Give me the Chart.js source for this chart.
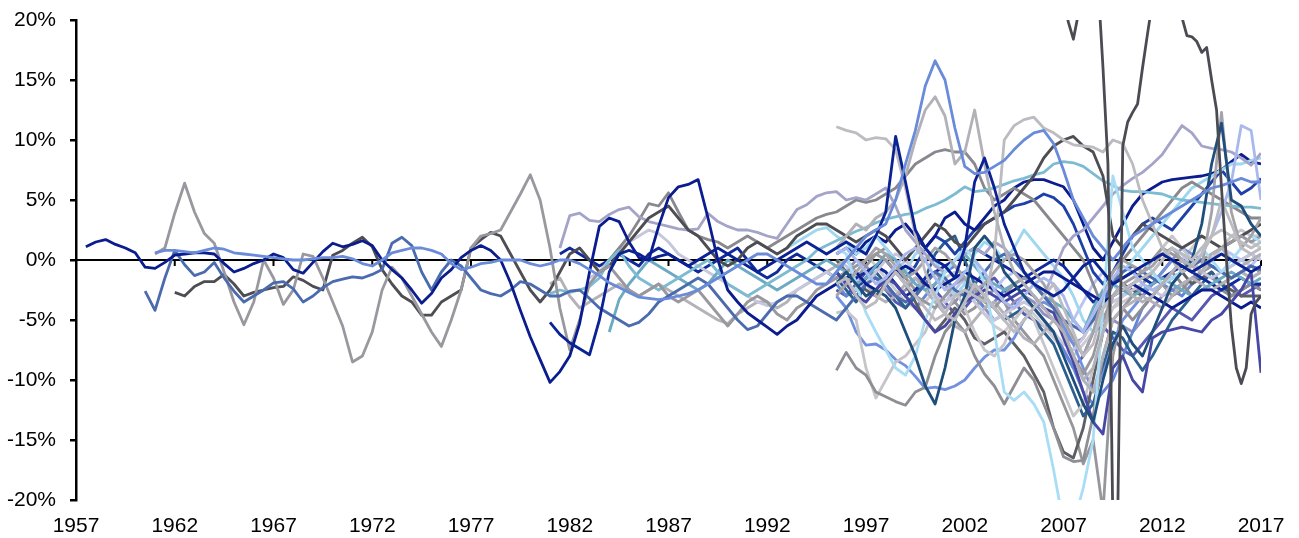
<!DOCTYPE html>
<html>
<head>
<meta charset="utf-8">
<script src="https://cdn.jsdelivr.net/npm/chart.js@4"></script>
<style>
  html, body { margin: 0; background: #fff; }
</style>
</head>
<body>
<canvas id="myChart" width="1299" height="538"></canvas>
<script>
// Axis ticks
const xTicks = [1957, 1962, 1967, 1972, 1977, 1982, 1987, 1992, 1997, 2002, 2007, 2012, 2017];
const yMin = -20;
const yMax = 20;
const yStep = 5;

// Series values (% deviation), half-year steps unless noted
const navyLong = [ // from 1957.5
    1.1, 1.5, 1.7, 1.3, 1.0, 0.6, -0.6, -0.7, -0.2, 0.4,
    0.5, 0.6, 0.6, 0.5, -0.3, -1.0, -0.7, -0.3, 0.0, 0.5,
    0.2, -0.8, -1.1, -0.2, 0.7, 1.4, 1.1, 1.3, 1.6, 1.2,
    0.0, -0.8,
    -1.5, -2.5, -3.6, -2.8, -1.5, -0.8, 0.2, 0.8, 1.2, 0.8,
    0.0, -1.9, -4.2, -6.4, -8.3, -10.2, -9.3, -8.0, -5.3, -1.0,
    2.8, 3.5, 3.2, 1.5, 0.2, 0.0, 2.8, 5.2, 6.1, 6.3,
    6.7, 3.5, 0.0, -2.5, -3.5, -4.4, -5.0, -5.6, -6.2, -5.5,
    -5.0, -4.0, -3.0, -2.5,
    -2.0, -1.5, -1.0, -2.0, -2.5, -1.5, -1.0, -0.5, -1.0, -2.0,
    -2.5, -2.0, -1.5, -1.0, -1.5, -2.0, -2.5, -3.0, -2.5, -2.0,
    -1.5, -1.0, -1.0, -1.5, -2.0, -2.5, -3.0, -3.5, -3.0, -2.5,
    -2.0, -2.5, -3.0, -3.5, -4.0, -3.5, -3.0, -2.5, -2.5, -3.0,
    -3.5, -4.0, -3.5, -4.0
];
const steelLong = [ // from 1960.5
    -2.6, -4.2, -1.5, 0.8, -0.4, -1.3, -1.0, -0.2, -1.5, -2.6,
    -3.5, -3.0, -2.5, -1.9, -1.8, -2.4, -3.5, -3.0, -2.3, -1.8,
    -1.6, -1.4, -1.5, -1.2, -0.8, 1.4, 1.9,
    1.2, -1.0, -2.5, -1.0, 0.0, -0.5, -1.5, -2.5, -2.8, -3.0,
    -2.5, -1.8, -2.0, -2.5, -3.0, -3.0, -2.6, -2.5, -3.2, -4.0,
    -4.5, -5.0, -5.5, -5.2, -4.5, -3.5, -3.0, -2.5, -2.0, -1.5,
    -2.0, -3.0, -4.0, -5.0, -5.8, -5.5, -4.5, -3.5, -3.0, -3.0,
    -3.5, -4.0, -4.5,
    -5.0, -4.0, -3.0, -2.0, -1.5, -2.0, -3.0, -3.5, -3.0, -2.0,
    -1.0, -1.5, -2.5, -3.0, -2.0, -1.0, 0.0, 0.5, 0.0, -1.0,
    -2.0, -3.0, -4.0, -5.0, -5.5, -6.0, -5.0, -3.5, -2.0, -1.0,
    -0.5, -1.0, -1.5, -2.0, -1.5, -1.0, -0.5, 0.0, -0.5, -1.0,
    -1.5, -1.0, -0.5, -0.8
];
const greyLong = [ // from 1961
    0.5, 1.0, 3.9, 6.4, 4.0, 2.2, 1.4, -1.0, -3.5, -5.4,
    -3.5, 0.0, -1.5, -3.7, -2.5, 0.5, 0.3, -1.5, -3.5, -5.5,
    -8.5, -8.0, -6.0, -2.5, -0.6,
    -1.5, -3.0, -4.5, -6.0, -7.2, -5.0, -2.5, 1.0, 2.0, 2.2,
    2.5, 4.0, 5.5, 7.1, 5.0, 1.0, -4.0, -7.5, -5.0, -2.0,
    -1.0, -0.5, -1.5, -2.5, -3.0, -2.5, -2.0, -3.0, -3.5, -3.0,
    -2.5, -3.5, -4.5, -5.5, -4.5, -3.5, -3.0, -3.5, -4.5, -5.0,
    -4.0, -3.5, -2.5, -2.0,
    -1.5, -1.0, -0.5, 0.0, 0.5, 0.0, -1.0, -2.0, -3.0, -3.5,
    -4.0, -3.0, -2.0, -1.5, -2.5, -3.5, -4.0, -3.0, -2.0, -1.5,
    -2.0, -3.0, -4.0, -6.0, -8.0, -9.5, -8.0, -5.0, -3.0, -2.0,
    -1.5, -1.0, 0.0, 1.0, 0.5, 0.0, -0.5, 0.0, 0.5, 1.0,
    1.5, 2.0, 1.5, 2.0
];
const darkGreyLong = [ // from 1962
    -2.7, -3.0, -2.2, -1.8, -1.8, -1.2, -2.0, -3.0, -2.7, -2.5,
    -2.3, -2.2, -1.4, -1.7, -2.2, -2.5, 0.4, 0.8, 1.4, 1.9,
    1.1, -0.8,
    -2.0, -3.0, -3.5, -4.6, -4.6, -3.5, -3.0, -2.5, 1.0, 1.7,
    2.3, 2.0, 0.5, -1.0, -2.5, -3.5, -2.5, -1.0, 0.5, 1.0,
    0.0, -1.0, -0.5, 0.5, 1.5, 2.5, 3.5, 4.0, 4.5, 3.5,
    2.5, 2.0, 1.0, 0.0, -0.5, 0.0, 1.0, 1.5, 1.0, 0.5,
    1.0, 2.0, 2.5, 3.0, 3.0,
    2.5, 2.0, 1.5, 2.0, 2.5, 2.0, 1.0, 0.0, 1.0, 2.0,
    3.0, 2.5, 1.5, 1.0, 2.0, 3.0, 3.5, 4.0, 5.0, 6.0,
    7.0, 8.5, 9.5, 10.0, 10.3, 9.5, 9.0, 7.0, 2.0, 1.0,
    2.0, 3.0, 2.5, 2.0, 1.5, 1.0, 1.5, 2.0, 1.5, 1.0,
    1.5, 2.0, 2.5, 3.0
];
const cornflowerLong = [ // from 1961
    0.6, 0.8, 0.8, 0.7, 0.6, 0.8, 1.0, 0.9, 0.6, 0.5,
    0.4, 0.3, 0.2, 0.1, 0.0, 0.0, 0.1, 0.2, 0.2, 0.3,
    0.1, -0.3, -0.5, 0.0, 0.6, 0.8, 1.0, 1.0, 0.8, 0.5,
    -0.3, -0.8, -0.6, -0.3, -0.2, 0.0, 0.0, 0.0,
    -0.3, -0.5, -0.3, 0.0, 0.0, -0.3, -0.8, -1.3, -1.9, -2.3,
    -2.7, -3.1, -3.2, -3.3, -3.2, -3.0, -2.8, -2.5, -2.0, -1.5,
    -1.0, -0.5, 0.0, 0.5, 0.5, 0.0, -0.5, -1.0, -1.5, -2.0,
    -2.0,
    -1.0, 0.0, 1.0, 2.0, 2.5, 3.0, 5.0, 8.0, 10.8, 14.5,
    16.6, 15.0, 11.0, 7.8, 7.2, 7.3, 7.8, 8.3, 9.2, 10.0,
    10.6, 10.8, 9.7, 7.5, 5.0, 3.5, 2.0, 1.0, 0.0, 1.0,
    2.0, 2.5, 3.0, 3.5, 4.0, 4.5, 5.0, 5.5, 6.0, 6.2,
    6.5, 6.8, 6.5, 6.5
];
const lavender = [ // from 1981.5
    1.0, 3.7, 3.9, 3.3, 3.2, 3.8, 4.2, 4.4, 3.6, 3.2,
    3.0, 2.8, 2.6, 2.5, 2.6, 3.9, 3.2, 2.8, 2.5, 2.5,
    2.3, 2.0, 1.8, 3.0, 4.2, 4.6, 5.3, 5.6,
    5.7, 5.0, 5.2, 5.0, 5.5, 6.0, 4.5, 2.5, 1.5, 0.5,
    -0.5, -1.0, 0.0, 0.5, 1.0, 0.5, 1.5, 1.0, 0.0, -1.0,
    -2.0, -3.0, -1.0, 1.0, 2.0, 2.5, 3.5, 4.5, 5.5, 6.2,
    6.8, 7.3, 8.0, 8.8, 10.0, 11.2, 10.6, 9.5, 9.3, 9.2,
    9.0, 8.5, 7.9, 8.9
];
const navySpikes = [ // from 1981
    -5.2, -6.2, -6.9, -7.4, -7.9, -5.0, -1.0, 0.5, 0.8, 0.5,
    0.0, 0.3, 0.5, 0.0, -0.5, 0.0, 0.5, 1.0, 0.5, 0.0,
    -0.5, -1.0, -0.5, 0.0, 0.5, 1.0, 1.5, 1.0, 0.5,
    1.0, 1.5, 1.0, 0.5, 2.0, 4.0, 10.3, 6.5, 2.5, 1.0,
    0.0, -0.5, -1.5, 1.0, 6.5, 8.5, 6.0, 3.0, 1.0, -1.0,
    -2.0, -2.5, -3.0, -2.5, -1.5, -0.5, 0.0, -1.0, -2.0, -1.5,
    -1.0, -0.5, 0.0, 0.5, 0.0, -0.5, -1.0, -0.5, 0.0, 0.5,
    0.0, -0.5, -1.0, -0.5
];
const tealRising = [ // from 1981
    -2.8, -2.5, -2.7, -2.5, -2.2, -1.5, 0.0, 0.8, -0.5, -1.5,
    -2.0, -2.5, -2.0, -1.5, -1.0, -0.5, 0.0, -1.0, -2.0, -2.5,
    -3.0, -2.5, -2.0, -1.5, -1.0, -0.5, 0.0, 0.8, 1.2,
    1.6, 2.0, 2.4, 2.7, 3.1, 3.4, 3.6, 3.8, 3.9, 4.3,
    4.6, 5.0, 5.5, 6.1, 5.7, 5.8, 6.0, 6.3, 6.6, 6.8,
    7.1, 7.3, 8.0, 8.2, 8.1, 7.8, 7.2, 6.6, 6.2, 5.8,
    5.7, 5.7, 5.6, 5.5, 5.2, 5.0, 4.9, 4.8, 4.7, 4.6,
    4.5, 4.4, 4.4, 4.3
];
const tealLow = [ // from 1984
    -6.0, -3.3, -2.0, -1.0, 0.0, -0.5, -1.0, -1.5, -2.0, -2.5,
    -2.0, -1.0, 0.0, -0.5, -1.0, -1.5, -2.0, -2.5, -2.0, -1.5,
    -1.0, -0.5, 0.0,
    -0.5, -1.0, -2.0, -1.5, -0.5, 0.5, 0.0, -1.0, -2.0, -2.5,
    -2.0, -1.0, 0.0, 0.5, -0.5, -1.5, -2.0, -2.5, -2.0, -1.5,
    -2.0, -3.0, -3.5, -4.0, -5.0, -6.0, -4.0, -2.5, -2.0, -2.5,
    -3.0, -2.5, -2.0, -1.5, -2.0, -2.5, -3.0, -2.5, -2.0, -1.5,
    -1.0, -1.5, -2.0, -1.5
];
const greyHigh = [ // from 1984
    0.0, 1.0, 2.0, 3.3, 4.7, 4.5, 5.6, 4.0, 2.5, 2.0,
    1.7, 1.5, 1.0, 1.5, 2.0, 1.5, 1.0, 1.5, 2.0, 2.5,
    3.0, 3.5, 3.8,
    4.0, 4.5, 5.0, 4.8, 5.0, 5.5, 6.0, 7.0, 8.0, 8.5,
    9.0, 9.2, 9.0, 9.0, 8.0, 6.0, 5.0, 5.5, 6.0, 5.5,
    5.0, 4.0, 3.0, 2.0, 1.0, 0.0, -2.0, -4.0, -2.0, 0.0,
    1.0, 2.0, 3.0, 4.0, 5.0, 6.0, 6.5, 6.0, 5.5, 5.0,
    4.5, 4.0, 3.5, 3.5
];
const paleLavender = [ // from 1983
    -1.5, -1.0, 0.0, 0.8, 1.5, 2.0, 2.5, 2.2, 1.5, 0.5,
    0.0, -0.5, -1.0, -1.5, -2.0, -2.5, -3.0, -3.5, -3.8, -3.5,
    -3.0, -2.5, -2.0, -1.5, -1.0,
    -1.5, -2.0, -2.5, -2.0, -1.0, 0.0, 0.5, 0.0, -1.0, -2.0,
    -3.0, -3.5, -3.0, -2.5, -3.5, -4.5, -5.0, -4.5, -4.0, -3.5,
    -4.0, -5.0, -6.0, -7.0, -7.5, -6.5, -5.0, -4.0, -3.5, -3.0,
    -2.5, -2.0, -2.5, -3.0, -2.0, -1.0, -0.5, -1.0, -1.5, -1.0,
    -0.5, 0.0, 0.5, 0.0
];
const lightGreyMid = [ // from 1981
    -2.0, -1.5, -3.0, -4.0, -3.5, -3.0, -2.5, -2.0, -2.5, -3.0,
    -2.5, -2.0, -2.5, -3.0, -3.5, -4.0, -4.5, -5.0, -5.3, -4.5,
    -4.0, -3.5, -3.5, -4.0, -3.5, -2.5, -2.0, -1.5, -1.0,
    -0.5, 0.0, -1.0, -2.0, -3.0, -3.5, -3.0, -2.0, -1.5, -2.5,
    -3.5, -4.5, -5.5, -6.0, -5.0, -4.0, -3.5, -4.5, -5.5, -6.5,
    -7.0, -6.0, -5.0, -6.0, -8.0, -10.0, -11.0, -8.0, -5.0, -4.0,
    -3.5, -3.0, -3.5, -4.0, -3.0, -2.0, -1.5, -2.0, -2.5, -2.0,
    -1.5, -1.0, -1.5, -1.0
];
const navyFlat = [ // from 1981.5
    0.5, 1.0, 0.5, 0.0, -0.5, 0.0, 0.5, 0.0, -0.5, 0.5,
    1.0, 0.5, 0.0, -0.5, -1.0, -0.5, 0.0, 0.5, 1.0, 0.0,
    -1.0, -1.5, -1.0, 0.0, 0.5, 0.0, -0.5, -1.0,
    -1.5, -2.0, -1.5, -1.0, -0.5, -1.0, -2.0, -3.0, -2.5, -1.5,
    -1.0, -0.5, 0.0, 0.5, 1.0, 0.5, 0.0, -0.5, -1.0, -1.5,
    -1.0, -0.5, 0.0, -0.5, -1.5, -2.5, -3.5, -3.0, -2.0, -1.5,
    -1.0, -1.5, -2.0, -1.5, -1.0, -0.5, -1.0, -1.5, -2.0, -2.5,
    -2.0, -1.5, -2.0, -2.0
];
const skyMid = [ // from 1993
    1.0, 1.5, 2.0, 2.5, 2.7,
    2.0, 1.5, 0.5, 1.0, 2.0, 1.0, 0.0, -1.0, 0.5, 1.0,
    0.0, -1.5, -3.0, -2.0, 0.5, 1.5, 1.0, 0.0, 1.0, 2.5,
    1.5, 0.5, -0.5, -1.5, -3.0, -5.0, -6.0, -4.0, -2.0, -1.0,
    0.0, 1.0, 2.0, 3.0, 4.0, 5.0, 6.0, 6.5, 7.0, 7.5,
    8.0, 8.0, 8.3, 8.5
];

// Series starting 1995.5
const greyTop = [
    11.1, 10.8, 10.6, 10.0, 10.2, 10.1, 9.2, 6.0, 2.0, -1.0,
    -3.0, -4.5, -5.0, -3.5, -2.0, -3.0, -4.0, -5.0, -6.0, -5.0,
    -4.0, -3.0, -2.0, -4.0, -6.0, -8.0, -7.0, -4.0, -3.0, -2.5,
    -2.0, -1.5, -1.0, 0.0, 1.0, 0.5, 0.0, 1.0, 2.0, 2.5,
    2.0, 1.5, 1.0, 1.5
];
const greyPeaks = [
    1.0, 2.0, 3.0, 2.5, 3.5, 4.0, 5.0, 7.0, 10.0, 12.5,
    13.6, 12.0, 8.0, 9.0, 12.5, 8.0, 4.0, 1.0, -1.0, -2.0,
    -3.0, -4.0, -5.0, -6.0, -8.0, -10.0, -9.0, -6.0, -3.0, -2.0,
    -3.0, -3.5, -3.0, -2.0, -1.0, 0.0, -0.5, -1.0, 0.5, 1.0,
    0.0, -0.5, 0.0, 0.5
];
const greyPlateau = [
    -2.0, -1.5, -3.0, -4.0, -3.5, -2.0, -1.0, -2.0, -3.0, -4.0,
    -5.0, -4.5, -3.0, -2.5, -3.0, -3.5, 0.5, 10.0, 11.2, 11.7,
    11.9, 11.0, 10.6, 10.0, 9.6, 9.5, 9.4, 9.0, 10.0, 9.7,
    8.0, 5.0, 3.0, 1.0, 0.0, -1.0, -0.5, 0.5, 2.0, 5.0,
    3.0, 1.0, 0.5, 1.0
];
const darkTeal = [
    -2.0, -1.0, -2.0, -3.0, -2.5, -3.0, -4.0, -6.0, -8.0, -10.5,
    -12.0, -9.0, -5.0, -3.0, 1.0, 2.0, 1.0, -1.0, -2.0, -3.0,
    -4.0, -5.0, -6.0, -8.0, -10.0, -12.0, -13.5, -10.0, -7.0, -5.5,
    -7.0, -8.0, -6.0, -4.0, -2.0, -1.0, 0.0, 3.0, 8.0, 11.4,
    5.0, 4.5, 3.0, 2.0
];
const periwinkle = [
    0.5, 1.0, 0.0, -1.0, -2.0, -1.5, -0.5, 0.5, 1.0, 0.0,
    -1.5, -2.5, -2.0, -1.0, 0.0, -1.0, -2.5, -3.5, -4.0, -3.0,
    -2.0, -1.5, -2.0, -3.0, -5.0, -6.0, -4.5, -3.0, -1.5, -0.5,
    -1.0, -2.0, -2.5, -2.0, -1.0, 0.0, -0.5, 0.5, 2.0, 4.0,
    6.5, 11.2, 10.8, 5.0
];
const greySpike = [
    -3.0, -2.0, -1.0, 0.0, 1.0, 0.5, -0.5, -1.5, -1.0, 0.0,
    1.0, 0.5, -0.5, -1.5, -2.5, -2.0, -1.0, 0.0, 0.5, 0.0,
    -1.0, -2.0, -3.5, -5.0, -6.5, -8.0, -6.0, -3.0, -1.0, 0.0,
    -0.5, -1.0, -0.5, 0.5, 1.0, 0.0, -1.0, -0.5, 4.0, 12.3,
    4.0, 1.0, 2.0, 3.5
];
const indigo = [
    -1.0, -2.0, -3.0, -3.5, -2.5, -1.5, -2.0, -3.0, -4.0, -5.0,
    -6.0, -5.5, -4.5, -3.5, -3.0, -2.5, -3.0, -3.5, -3.0, -2.5,
    -3.0, -4.0, -4.4, -6.5, -8.5, -11.0, -13.5, -14.5, -9.0, -8.0,
    -10.0, -11.0, -6.5, -6.0, -5.8, -5.6, -5.8, -6.0, -5.0, -4.5,
    -3.5, -2.5, -1.0, -9.4
];
const skyDeep = [
    1.0, 0.5, -2.0, -4.4, -6.0, -7.5, -9.0, -9.6, -8.0, -5.0,
    -3.0, -1.0, 0.0, 1.0, 0.0, -2.0, -6.0, -11.0, -11.7, -11.0,
    -12.0, -13.5, -17.5, -22.0, -22.0, -19.0, -15.0, -4.0, 7.0, 4.0,
    1.0, 0.0, -1.0, -2.0, -1.5, -1.0, 0.0, 1.0, 0.0, -1.0,
    0.0, 1.0, 2.0, 1.5
];
const greyLow = [
    -9.2, -7.7, -9.0, -9.6, -11.0, -11.4, -11.8, -12.1, -11.0, -10.6,
    -8.0, -6.0, -5.0, -6.0, -8.0, -9.5, -10.5, -12.0, -10.5, -9.0,
    -10.0, -12.0, -14.0, -16.4, -16.8, -16.7, -13.0, -8.0, -5.0, -4.0,
    -5.0, -4.0, -3.0, -2.0, -1.0, -2.0, -3.0, -2.5, -2.0, -2.5,
    -3.0, -2.5, -2.0, -2.5
];
const greyPaleLow = [
    -4.4, -4.2, -5.0, -9.0, -11.5, -10.0, -8.5, -8.0, -7.0, -6.0,
    -4.0, -3.0, -2.5, -4.0, -6.0, -7.5, -8.0, -7.0, -5.0, -4.0,
    -5.0, -7.0, -9.0, -11.0, -13.0, -12.0, -9.0, -6.0, -4.0, -3.0,
    -2.0, -1.0, 0.0, 1.0, 2.0, 1.0, 0.0, -1.0, 0.0, 1.0,
    2.0, 2.5, 2.0, 2.0
];
const cornflowerLow = [
    -3.0, -4.0, -6.0, -7.1, -7.0, -7.5, -8.3, -8.8, -9.7, -10.7,
    -10.6, -10.8, -10.5, -10.0, -9.0, -8.1, -7.5, -7.5, -6.5, -5.0,
    -4.0, -3.5, -4.0, -5.5, -7.0, -9.0, -11.0, -9.5, -7.0, -5.0,
    -4.0, -3.0, -2.0, -1.0, 0.0, 1.0, 0.5, 0.0, -0.5, -1.0,
    -0.5, 0.0, 0.5, 0.0
];
const navyHigh = [
    0.5, 1.0, 0.5, 1.5, 2.0, 1.5, 2.5, 3.0, 2.0, 1.0,
    2.0, 3.5, 4.0, 3.0, 2.5, 3.5, 4.5, 5.0, 6.0, 6.5,
    6.7, 6.7, 6.4, 6.1, 5.0, 3.0, 1.0, 0.0, 1.5, 3.0,
    4.5, 5.5, 6.0, 6.5, 6.7, 6.8, 6.9, 7.0, 7.2, 7.5,
    8.2, 8.8, 8.2, 8.0
];
const blueMid = [
    -1.0, -2.0, -2.5, -1.5, -0.5, 0.0, -1.0, -1.5, -0.5, 1.0,
    2.0, 1.5, 0.5, 1.5, 2.5, 3.0, 3.5, 4.0, 4.5, 4.7,
    5.0, 5.5, 5.2, 4.5, 3.0, 1.0, -1.0, -2.0, -1.0, 0.5,
    2.0, 3.0, 3.5, 3.0, 2.5, 3.5, 4.5, 5.5, 6.5, 7.5,
    6.5, 5.5, 6.0, 6.8
];
const darkTealLow = [
    -1.5, -2.5, -3.5, -2.0, -1.0, -2.0, -3.0, -4.0, -3.0, -1.5,
    0.5, 1.5, 2.0, 0.0, -2.0, -3.0, -4.0, -5.0, -4.5, -4.0,
    -5.0, -6.0, -7.0, -9.0, -11.0, -13.0, -12.0, -9.0, -6.0, -6.5,
    -8.0, -9.2, -8.0, -6.5, -5.0, -4.0, -3.0, -2.0, -1.0, -2.0,
    -3.0, -2.5, -2.0, -2.5
];
const darkGreyLow = [
    0.0, -1.0, -2.0, -2.5, -3.0, -2.0, -1.0, -2.0, -3.5, -5.0,
    -6.0, -5.0, -4.0, -5.0, -6.5, -7.0, -6.5, -6.0, -7.0, -8.0,
    -9.5, -11.0, -14.0, -16.0, -16.5, -14.0, -10.0, -6.0, -3.0, -2.0,
    -2.5, -3.0, -2.0, -1.0, 0.0, -1.0, -2.0, -1.5, -1.0, -2.0,
    -2.5, -3.0, -3.0, -3.0
];
const greyDip = [
    -1.0, -2.0, -1.5, -0.5, 0.5, 1.0, 0.0, -1.5, -2.5, -2.0,
    -1.0, -2.0, -3.5, -4.5, -4.0, -3.0, -2.5, -3.5, -5.0, -6.0,
    -7.0, -8.0, -10.0, -12.0, -14.0, -17.0, -15.0, -21.0, -8.0, -4.0,
    -3.0, -2.0, -1.0, -2.0, -3.0, -2.5, -1.5, -1.0, -0.5, -1.0,
    -1.5, -1.0, -0.5, -1.0
];
const cornflowerMid = [
    -2.0, -3.0, -2.5, -1.5, -0.5, -1.0, -2.0, -3.0, -4.0, -3.0,
    -2.0, -1.0, -0.5, -1.5, -3.0, -4.0, -3.5, -2.5, -2.0, -3.0,
    -4.0, -5.0, -6.0, -7.5, -9.0, -11.0, -12.0, -11.0, -10.0, -8.0,
    -6.0, -4.0, -3.0, -2.0, -2.5, -3.0, -2.0, -1.0, -0.5, -1.0,
    -1.5, -1.0, -0.5, -1.0
];
const periwinklePale = [
    0.0, -0.5, -1.5, -2.5, -3.0, -2.0, -1.0, 0.0, -1.0, -2.0,
    -3.0, -3.5, -2.5, -1.5, -2.0, -3.0, -2.5, -1.5, -1.0, -2.0,
    -3.0, -4.0, -5.0, -6.0, -5.0, -3.5, -2.0, -1.0, -2.0, -3.0,
    -2.5, -2.0, -1.0, 0.0, 1.0, 0.5, -0.5, -1.0, 0.0, 1.0,
    0.5, 0.0, -0.5, 0.5
];
const lavenderLow = [
    -1.5, -1.0, 0.0, -0.5, -1.5, -2.5, -3.0, -2.5, -1.5, -2.0,
    -3.0, -4.0, -3.5, -2.5, -3.0, -4.0, -5.0, -4.5, -3.5, -3.0,
    -3.5, -4.5, -5.0, -6.0, -7.0, -6.5, -5.0, -4.5, -5.0, -5.5,
    -6.0, -5.0, -4.0, -3.0, -2.5, -2.0, -1.5, -1.0, -1.5, -2.0,
    -1.5, -1.0, -1.5, -1.0
];
const greyPale = [
    -1.0, 0.0, 1.0, 0.5, -0.5, -1.5, -2.5, -3.5, -4.0, -3.5,
    -2.5, -1.5, -1.0, -2.0, -3.5, -4.5, -5.5, -6.0, -5.0, -4.0,
    -4.5, -5.5, -6.5, -7.5, -8.0, -7.0, -6.0, -5.0, -4.0, -3.5,
    -3.0, -2.5, -3.0, -2.0, -1.0, 0.0, 1.0, 2.0, 1.5, 1.0,
    1.5, 2.0, 1.5, 1.0
];
const indigoMid = [
    -2.5, -3.0, -2.0, -1.0, -1.5, -2.5, -3.5, -4.0, -3.0, -2.0,
    -2.5, -3.5, -4.5, -4.0, -3.0, -2.0, -1.5, -2.5, -3.5, -4.5,
    -5.0, -5.5, -6.0, -7.5, -9.0, -8.0, -6.0, -5.5, -6.5, -7.5,
    -8.0, -7.0, -6.0, -5.0, -4.0, -4.5, -5.0, -4.0, -3.0, -2.5,
    -2.0, -3.0, -2.5, -2.0
];
// quarterly, from 2006.5 (runs off the top and bottom of the axis)
const greyExtreme = [
    24, 22, 21.5, 19.8, 18.4, 20.5, 23, 25, 26, 23,
    16, 8, -22, -21, 9.5, 11.5, 12.3, 13, 16, 18.8,
    21.5, 24, 26, 26, 25, 22, 20.2, 18.7, 18.6, 18.2,
    17.3, 17.7, 15, 12.5, 6, 0, -5.5, -9.0, -10.3, -9.0,
    -4.5, -3.5, -3.0
];

const COLOR = {
    navy: '#0A1C8E',
    navy2: '#0B2294',
    navy3: '#102A9C',
    blueMid: '#1E40A8',
    steel: '#4B6BAF',
    cornflower: '#6A8BDA',
    cornflower2: '#7292E0',
    cornflower3: '#6486D8',
    periwinkle: '#A9B9EE',
    periwinkle2: '#B8C4F2',
    sky: '#A9DDF5',
    sky2: '#9FD6F0',
    teal: '#7DBBD3',
    teal2: '#6CA9C2',
    darkTeal: '#1F4E7B',
    darkTeal2: '#2A5F8E',
    indigo: '#4747A5',
    indigo2: '#5858B2',
    lavender: '#A4A4C9',
    lavender2: '#8F8FC0',
    lavender3: '#C6C6DC',
    greyDarkest: '#4B4B53',
    greyDark: '#4D4D53',
    greyDark2: '#5E5E64',
    grey1: '#88888E',
    grey2: '#8E8E94',
    grey3: '#96969C',
    grey4: '#98989E',
    grey5: '#A3A3A9',
    grey6: '#B1B1B7',
    grey7: '#B2B2B8',
    grey8: '#BBBBC0',
    grey9: '#BCBCC1',
    grey10: '#C5C5CA',
    grey11: '#CBCBD0',
};

// values, first year, step in years, colour
const lines = [
    [greyExtreme, 2006.5, 0.25, COLOR.greyDarkest],
    [cornflowerLong, 1961, 0.5, COLOR.cornflower],
    [navySpikes, 1981, 0.5, COLOR.navy2],
    [greyPeaks, 1995.5, 0.5, COLOR.grey6],
    [greyPlateau, 1995.5, 0.5, COLOR.grey8],
    [greyTop, 1995.5, 0.5, COLOR.grey9],
    [darkTeal, 1995.5, 0.5, COLOR.darkTeal],
    [periwinkle, 1995.5, 0.5, COLOR.periwinkle],
    [greySpike, 1995.5, 0.5, COLOR.grey5],
    [indigo, 1995.5, 0.5, COLOR.indigo],
    [skyDeep, 1995.5, 0.5, COLOR.sky],
    [navyLong, 1957.5, 0.5, COLOR.navy],
    [steelLong, 1960.5, 0.5, COLOR.steel],
    [greyLong, 1961, 0.5, COLOR.grey4],
    [darkGreyLong, 1962, 0.5, COLOR.greyDark],
    [lavender, 1981.5, 0.5, COLOR.lavender],
    [tealRising, 1981, 0.5, COLOR.teal],
    [tealLow, 1984, 0.5, COLOR.teal2],
    [greyHigh, 1984, 0.5, COLOR.grey1],
    [paleLavender, 1983, 0.5, COLOR.lavender3],
    [lightGreyMid, 1981, 0.5, COLOR.grey7],
    [navyFlat, 1981.5, 0.5, COLOR.navy3],
    [skyMid, 1993, 0.5, COLOR.sky2],
    [greyLow, 1995.5, 0.5, COLOR.grey2],
    [greyPaleLow, 1995.5, 0.5, COLOR.grey10],
    [cornflowerLow, 1995.5, 0.5, COLOR.cornflower2],
    [navyHigh, 1995.5, 0.5, COLOR.navy],
    [blueMid, 1995.5, 0.5, COLOR.blueMid],
    [darkTealLow, 1995.5, 0.5, COLOR.darkTeal2],
    [darkGreyLow, 1995.5, 0.5, COLOR.greyDark2],
    [greyDip, 1995.5, 0.5, COLOR.grey3],
    [cornflowerMid, 1995.5, 0.5, COLOR.cornflower3],
    [periwinklePale, 1995.5, 0.5, COLOR.periwinkle2],
    [lavenderLow, 1995.5, 0.5, COLOR.lavender2],
    [greyPale, 1995.5, 0.5, COLOR.grey11],
    [indigoMid, 1995.5, 0.5, COLOR.indigo2],
];

const FONT = { family: '"Liberation Sans", Arial, sans-serif', size: 21 };

// zero line with the year ticks hanging from it
const zeroLine = {
    id: 'zeroLine',
    beforeDatasetsDraw(chart) {
        const { ctx, chartArea, scales } = chart;
        const y0 = scales.y.getPixelForValue(0);
        ctx.save();
        ctx.strokeStyle = '#000';
        ctx.lineWidth = 2;
        ctx.beginPath();
        ctx.moveTo(chartArea.left, y0);
        ctx.lineTo(chartArea.right, y0);
        xTicks.forEach(t => {
            const px = scales.x.getPixelForValue(t);
            ctx.moveTo(px, y0);
            ctx.lineTo(px, y0 + 6);
        });
        ctx.stroke();
        ctx.restore();
    }
};

const data = {
    datasets: lines.map(([values, start, step, color]) => ({
        data: values.map((v, i) => ({ x: start + i * step, y: v })),
        borderColor: color,
        backgroundColor: color,
        borderWidth: 2.8,
        pointRadius: 0,
        tension: 0,
        borderJoinStyle: 'round',
        fill: false,
    }))
};

const config = {
    type: 'line',
    data: data,
    options: {
        responsive: false,
        animation: false,
        events: [],
        layout: { padding: { top: 20, right: 38, bottom: 0, left: 0 } },
        plugins: {
            legend: { display: false },
            tooltip: { enabled: false },
        },
        scales: {
            x: {
                type: 'linear',
                min: 1957,
                max: 2017,
                afterBuildTicks: s => { s.ticks = xTicks.map(v => ({ value: v })); },
                afterFit: s => { s.height = 38; s.paddingLeft = 0; s.paddingRight = 0; },
                grid: { display: false },
                border: { display: false },
                ticks: {
                    autoSkip: false,
                    maxRotation: 0,
                    padding: 6,
                    color: '#000',
                    font: FONT,
                    callback: v => String(v),
                },
            },
            y: {
                min: yMin,
                max: yMax,
                afterFit: s => { s.width = 76; s.paddingTop = 0; s.paddingBottom = 0; },
                grid: { drawOnChartArea: false, drawTicks: true, tickLength: 6, color: '#000', lineWidth: 2.5 },
                border: { display: true, color: '#000', width: 2.5 },
                ticks: {
                    stepSize: yStep,
                    padding: 14,
                    color: '#000',
                    font: FONT,
                    callback: v => v + '%',
                },
            },
        },
    },
    plugins: [zeroLine],
};

const myChart = new Chart(document.getElementById('myChart'), config);
</script>
</body>
</html>
